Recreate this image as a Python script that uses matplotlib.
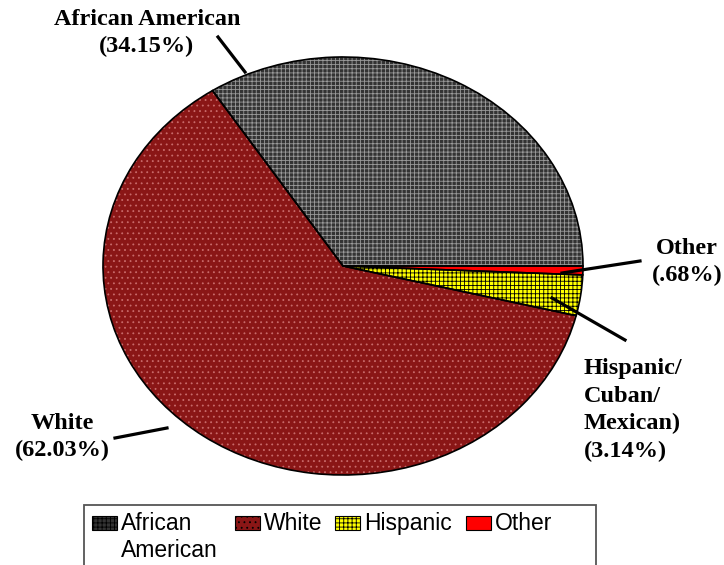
import numpy as np
import matplotlib.pyplot as plt
from matplotlib.lines import Line2D
from matplotlib.patches import Rectangle

# data
groups = ["African American", "White", "Hispanic", "Other"]
legend_labels = ["African\nAmerican", "White", "Hispanic", "Other"]
shares = [34.15, 62.03, 3.14, 0.68]
callouts = ["African American\n(34.15%)", "White\n(62.03%)",
            "Hispanic/\nCuban/\nMexican)\n(3.14%)", "Other\n(.68%)"]

faces = ["#333333", "#8a1616", "#ffff00", "#ff0000"]
hatch_cols = ["#9a9a9a", "#c86a6a", "#000000", "#ff0000"]
hatches = ["++++", "...", "++++", None]

W, H = 724, 565
fig = plt.figure(figsize=(W / 100, H / 100), dpi=100)
ax = fig.add_axes([0, 0, 1, 1])

def px(x, y):
    # pixel (from top-left) -> figure fraction
    return x / W, 1 - y / H

plt.rcParams['hatch.linewidth'] = 0.6

# pie ellipse: centre (343, 266), rx 240, ry 209 px
cx, cy, rx, ry = 343, 266, 240, 209

wedges, _ = ax.pie(shares, startangle=0, counterclock=True, radius=1,
                   wedgeprops=dict(linewidth=0))
for w, fc, hc, h in zip(wedges, faces, hatch_cols, hatches):
    w.set_facecolor(fc)
    w.set_edgecolor(hc)
    w.set_linewidth(0)
    if h:
        w.set_hatch(h)
ax.pie(shares, startangle=0, counterclock=True, radius=1,
       wedgeprops=dict(fill=False, edgecolor="black", linewidth=1.2))

ax.set_aspect("auto")
ax.set_xlim(-cx / rx, (W - cx) / rx)
ax.set_ylim(-(H - cy) / ry, cy / ry)
ax.axis("off")

# leader lines
leaders = [((218, 37), (245, 72)),
           ((115, 438), (167, 428)),
           ((552, 298), (625, 340)),
           ((562, 273), (640, 261))]
for (x0, y0), (x1, y1) in leaders:
    a, b = px(x0, y0)
    c, d = px(x1, y1)
    fig.add_artist(Line2D([a, c], [b, d], color="black", lw=2.3,
                          transform=fig.transFigure))

# callout labels
lab_font = dict(family="Liberation Serif", fontweight="bold", fontsize=17.5,
                color="black", linespacing=1.4)
pos = [(147, 33, "center", "center"), (62, 437, "center", "center"),
       (584, 410, "left", "center"), (687, 262, "center", "center")]
for txt, (x, y, ha, va) in zip(callouts, pos):
    a, b = px(x, y)
    fig.text(a, b, txt, ha=ha, va=va, multialignment=ha, **lab_font)

# legend, drawn by hand so the two-line entry hangs below its key
x0, y0 = px(84, 505)
x1, _ = px(596, 505)
fig.add_artist(Rectangle((x0, -0.05), x1 - x0, y0 + 0.05, fill=False,
                         edgecolor="#555555", linewidth=1.3,
                         transform=fig.transFigure))
key_x = [92, 235, 335, 466]
for kx, lab, fc, hc, h in zip(key_x, legend_labels, faces, hatch_cols, hatches):
    a, b = px(kx, 530)
    key = Rectangle((a, b), 25 / W, 14 / H, facecolor=fc, edgecolor="black",
                    linewidth=0.8, hatch=h, transform=fig.transFigure)
    fig.add_artist(key)
    ta, tb = px(kx + 29, 512)
    fig.text(ta, tb, lab, ha="left", va="top", family="Liberation Sans",
             fontsize=16.5, linespacing=1.22, color="black")

fig.savefig("out.png", dpi=100)
